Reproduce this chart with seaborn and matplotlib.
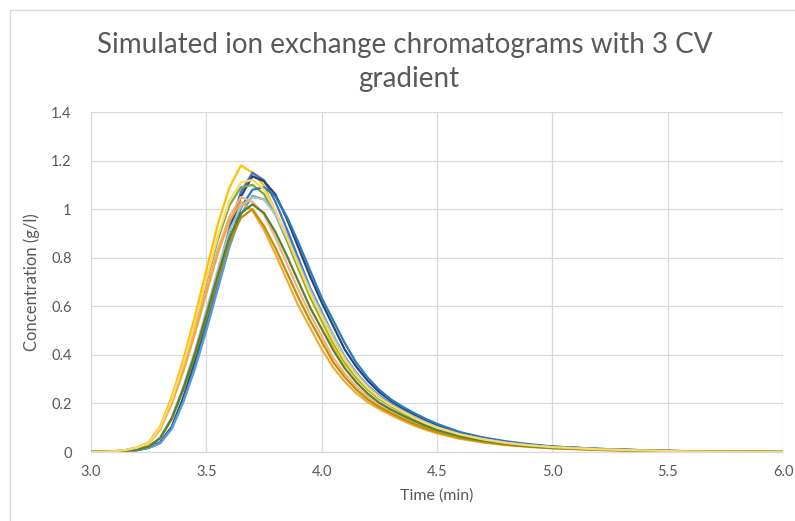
import matplotlib
matplotlib.use("Agg")
import matplotlib.pyplot as plt
import matplotlib.patches as mpatches
import numpy as np
import pandas as pd
import seaborn as sns

# Elution time grid (min)
time_min = [3.00, 3.05, 3.10, 3.15, 3.20, 3.25, 3.30, 3.35, 3.40, 3.45,
            3.50, 3.55, 3.60, 3.65, 3.70, 3.75, 3.80, 3.85, 3.90, 3.95,
            4.00, 4.05, 4.10, 4.15, 4.20, 4.25, 4.30, 4.35, 4.40, 4.45,
            4.50, 4.60, 4.70, 4.80, 4.90, 5.00, 5.20, 5.40, 5.60, 5.80, 6.00]

# Simulated chromatograms, concentration in g/l
run_01 = [0.000, 0.001, 0.004, 0.008, 0.019, 0.040, 0.106, 0.228, 0.380, 0.557,
          0.748, 0.938, 1.089, 1.180, 1.150, 1.097, 0.991, 0.870, 0.748, 0.637,
          0.537, 0.437, 0.363, 0.303, 0.255, 0.218, 0.189, 0.162, 0.137, 0.114,
          0.097, 0.068, 0.050, 0.035, 0.026, 0.019, 0.011, 0.006, 0.002, 0.001, 0.000]
run_02 = [0.000, 0.000, 0.001, 0.003, 0.008, 0.019, 0.039, 0.104, 0.224, 0.374,
          0.548, 0.735, 0.922, 1.071, 1.150, 1.119, 1.029, 0.916, 0.796, 0.676,
          0.577, 0.478, 0.392, 0.326, 0.273, 0.231, 0.200, 0.172, 0.146, 0.123,
          0.103, 0.074, 0.053, 0.038, 0.028, 0.021, 0.012, 0.006, 0.002, 0.001, 0.000]
run_03 = [0.000, 0.000, 0.001, 0.003, 0.008, 0.018, 0.039, 0.103, 0.220, 0.367,
          0.538, 0.723, 0.906, 1.052, 1.135, 1.115, 1.060, 0.958, 0.840, 0.723,
          0.616, 0.519, 0.422, 0.351, 0.293, 0.246, 0.211, 0.182, 0.156, 0.132,
          0.111, 0.079, 0.057, 0.041, 0.030, 0.022, 0.013, 0.007, 0.003, 0.001, 0.000]
run_04 = [0.000, 0.001, 0.003, 0.008, 0.018, 0.037, 0.099, 0.212, 0.354, 0.519,
          0.697, 0.875, 1.015, 1.090, 1.100, 1.062, 0.976, 0.869, 0.755, 0.641,
          0.547, 0.453, 0.372, 0.309, 0.259, 0.219, 0.189, 0.163, 0.139, 0.117,
          0.098, 0.070, 0.051, 0.036, 0.026, 0.020, 0.011, 0.006, 0.002, 0.001, 0.000]
run_05 = [0.000, 0.000, 0.001, 0.003, 0.008, 0.017, 0.037, 0.098, 0.210, 0.351,
          0.514, 0.691, 0.867, 1.006, 1.080, 1.090, 1.052, 0.967, 0.861, 0.748,
          0.635, 0.542, 0.449, 0.368, 0.306, 0.256, 0.217, 0.187, 0.161, 0.137,
          0.116, 0.082, 0.060, 0.044, 0.032, 0.023, 0.013, 0.007, 0.003, 0.001, 0.000]
run_06 = [0.000, 0.000, 0.001, 0.003, 0.007, 0.017, 0.036, 0.095, 0.205, 0.341,
          0.500, 0.672, 0.843, 0.978, 1.055, 1.040, 0.986, 0.890, 0.781, 0.672,
          0.572, 0.482, 0.392, 0.326, 0.272, 0.229, 0.196, 0.170, 0.145, 0.123,
          0.103, 0.073, 0.053, 0.038, 0.028, 0.020, 0.012, 0.006, 0.003, 0.001, 0.000]
run_07 = [0.000, 0.001, 0.002, 0.005, 0.011, 0.023, 0.059, 0.142, 0.268, 0.415,
          0.581, 0.751, 0.909, 1.012, 1.050, 1.040, 0.977, 0.882, 0.774, 0.666,
          0.567, 0.478, 0.389, 0.323, 0.270, 0.227, 0.194, 0.168, 0.144, 0.122,
          0.102, 0.072, 0.053, 0.038, 0.027, 0.020, 0.012, 0.006, 0.003, 0.001, 0.000]
run_08 = [0.000, 0.001, 0.003, 0.007, 0.017, 0.036, 0.095, 0.203, 0.338, 0.496,
          0.666, 0.835, 0.969, 1.050, 1.030, 0.977, 0.882, 0.774, 0.666, 0.567,
          0.478, 0.389, 0.323, 0.270, 0.227, 0.194, 0.168, 0.144, 0.122, 0.102,
          0.086, 0.061, 0.044, 0.032, 0.023, 0.017, 0.009, 0.005, 0.002, 0.001, 0.000]
run_09 = [0.000, 0.001, 0.003, 0.007, 0.016, 0.035, 0.093, 0.199, 0.332, 0.486,
          0.653, 0.819, 0.951, 1.030, 0.994, 0.914, 0.814, 0.707, 0.600, 0.512,
          0.424, 0.348, 0.289, 0.242, 0.205, 0.177, 0.152, 0.130, 0.109, 0.092,
          0.077, 0.054, 0.039, 0.028, 0.021, 0.015, 0.008, 0.004, 0.002, 0.001, 0.000]
run_10 = [0.000, 0.001, 0.002, 0.005, 0.010, 0.022, 0.056, 0.135, 0.255, 0.395,
          0.553, 0.715, 0.866, 0.964, 1.000, 0.930, 0.840, 0.737, 0.634, 0.540,
          0.455, 0.370, 0.308, 0.257, 0.216, 0.185, 0.160, 0.137, 0.116, 0.097,
          0.082, 0.058, 0.042, 0.030, 0.022, 0.016, 0.009, 0.005, 0.002, 0.001, 0.000]
run_11 = [0.000, 0.001, 0.002, 0.005, 0.010, 0.022, 0.057, 0.138, 0.260, 0.403,
          0.564, 0.729, 0.883, 0.983, 1.020, 0.984, 0.905, 0.806, 0.700, 0.595,
          0.507, 0.420, 0.345, 0.287, 0.240, 0.203, 0.175, 0.151, 0.129, 0.108,
          0.091, 0.065, 0.047, 0.034, 0.024, 0.018, 0.010, 0.005, 0.002, 0.001, 0.000]
run_12 = [0.000, 0.001, 0.003, 0.008, 0.018, 0.038, 0.101, 0.216, 0.361, 0.529,
          0.710, 0.890, 1.034, 1.110, 1.120, 1.081, 0.993, 0.885, 0.768, 0.653,
          0.557, 0.461, 0.379, 0.315, 0.263, 0.223, 0.193, 0.166, 0.141, 0.119,
          0.100, 0.072, 0.052, 0.037, 0.027, 0.020, 0.011, 0.006, 0.002, 0.001, 0.000]

runs = [run_01, run_02, run_03, run_04, run_05, run_06,
        run_07, run_08, run_09, run_10, run_11, run_12]
run_colors = ["#FFC000", "#4472C4", "#264478", "#70AD47", "#2B7BB9", "#5B9BD5",
              "#A9BFCB", "#F4B183", "#F2A93B", "#BF9000", "#548235", "#FFD966"]

x_ticks = [3.0, 3.5, 4.0, 4.5, 5.0, 5.5, 6.0]
x_tick_labels = ["3.0", "3.5", "4.0", "4.5", "5.0", "5.5", "6.0"]
y_ticks = [0, 0.2, 0.4, 0.6, 0.8, 1.0, 1.2, 1.4]
y_tick_labels = ["0", "0.2", "0.4", "0.6", "0.8", "1", "1.2", "1.4"]

# Long-form table for seaborn
frames = []
for i, vals in enumerate(runs):
    frames.append(pd.DataFrame({"time": time_min, "conc": vals, "run": f"run {i + 1}"}))
df = pd.concat(frames, ignore_index=True)

sns.set_theme(style="white")
plt.rcParams["font.family"] = ["Lato", "DejaVu Sans"]

text_gray = "#595959"
grid_gray = "#D9D9D9"

fig = plt.figure(figsize=(7.95, 5.21), dpi=100)
ax = fig.add_axes([91 / 795, 1 - 452 / 521, (783 - 91) / 795, (452 - 112) / 521])

# chart frame
fig.patches.append(mpatches.Rectangle((10 / 795, -0.05), 1.1, 1 - 10 / 521 + 0.05,
                                      transform=fig.transFigure, fill=False,
                                      edgecolor="#D9D9D9", lw=1.0, zorder=0))

sns.lineplot(data=df, x="time", y="conc", hue="run", palette=run_colors,
             legend=False, ax=ax, linewidth=1.6, sort=False, estimator=None)

ax.set_xlim(3.0, 6.0)
ax.set_ylim(0, 1.4)
ax.set_xticks(x_ticks)
ax.set_xticklabels(x_tick_labels)
ax.set_yticks(y_ticks)
ax.set_yticklabels(y_tick_labels)
ax.grid(True, color=grid_gray, lw=0.9)
ax.set_axisbelow(True)
for side in ["top", "right", "left"]:
    ax.spines[side].set_visible(False)
ax.spines["bottom"].set_color(grid_gray)
ax.spines["bottom"].set_linewidth(0.9)
ax.tick_params(axis="both", length=0, labelsize=10.5, labelcolor=text_gray, pad=9)
ax.tick_params(axis="y", pad=14)

ax.set_xlabel("Time (min)", fontsize=11.5, color=text_gray, labelpad=7)
ax.set_ylabel("Concentration (g/l)", fontsize=12, color=text_gray, labelpad=8)

fig.text(405 / 795, 1 - 45 / 521, "Simulated ion exchange chromatograms with 3 CV",
         ha="center", va="center", fontsize=20, color=text_gray)
fig.text(409 / 795, 1 - 79 / 521, "gradient",
         ha="center", va="center", fontsize=20, color=text_gray)

fig.savefig("out.png", dpi=100)
